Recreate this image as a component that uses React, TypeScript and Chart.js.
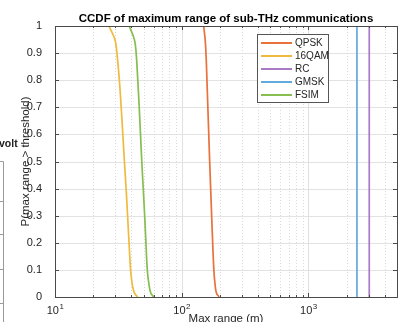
import { useEffect, useRef } from 'react';
import { Chart, registerables } from 'chart.js';

Chart.register(...registerables);

const seriesNames = ['QPSK', '16QAM', 'RC', 'GMSK', 'FSIM'];
const seriesColors = ['#E8713C', '#F0BA3E', '#A97BC6', '#62A9DE', '#86BE4F'];

const prob = [1, 0.95, 0.9, 0.8, 0.7, 0.6, 0.5, 0.4, 0.3, 0.2, 0.1, 0.05, 0.015, 0];
const qpskRange = [149.0, 153.1, 155.4, 158.2, 160.8, 163.5, 166.2, 169.2, 172.3, 175.5, 179.3, 182.9, 187.9, 197.4];
const qam16Range = [26.6, 29.7, 30.8, 32.2, 33.3, 34.3, 35.3, 36.4, 37.4, 38.4, 39.5, 40.6, 42.3, 45.0];
const fsimRange = [38.5, 42.3, 43.7, 45.0, 46.2, 47.3, 48.4, 49.7, 51.0, 52.2, 53.5, 55.0, 57.0, 60.2];
const stepProb = [0, 1];
const rcRange = [3020, 3020];
const gmskRange = [2415, 2415];

const xMin = 10;
const xMax = 5000;
const xTickValues = [10, 100, 1000];
const xTickExponents = ['1', '2', '3'];

const titleText = 'CCDF of maximum range of sub-THz communications';
const xLabelText = 'Max range (m)';
const yLabelText = 'P(max range > threshold)';
const remnantText = 'volt';

const FONT = '"Liberation Sans", Arial, Helvetica, sans-serif';

function pts(xs: number[], ys: number[]) {
  return xs.map((v, i) => ({ x: v, y: ys[i] }));
}

function minorValues(): number[] {
  const out: number[] = [];
  for (let d = xMin; d <= xMax; d *= 10) {
    for (let m = 1; m <= 9; m++) {
      const v = m * d;
      if (v <= xMax) out.push(v);
    }
  }
  return out;
}

function isPow10(v: number) {
  const l = Math.log10(v);
  return Math.abs(l - Math.round(l)) < 1e-9;
}

const framePlugin = {
  id: 'matlabFrame',
  beforeDatasetsDraw(chart: any) {
    const { ctx, chartArea: a, scales } = chart;
    const x = scales.x;
    const y = scales.y;
    ctx.save();
    ctx.lineWidth = 1;
    ctx.strokeStyle = '#E3E3E3';
    for (const t of y.ticks) {
      const py = Math.round(y.getPixelForValue(t.value)) + 0.5;
      ctx.beginPath();
      ctx.moveTo(a.left, py);
      ctx.lineTo(a.right, py);
      ctx.stroke();
    }
    for (const v of minorValues()) {
      const px = Math.round(x.getPixelForValue(v)) + 0.5;
      if (isPow10(v)) {
        ctx.setLineDash([]);
        ctx.strokeStyle = '#E0E0E0';
      } else {
        ctx.setLineDash([1, 2]);
        ctx.strokeStyle = '#DADADA';
      }
      ctx.beginPath();
      ctx.moveTo(px, a.top);
      ctx.lineTo(px, a.bottom);
      ctx.stroke();
    }
    ctx.restore();
  },
  afterDraw(chart: any) {
    const { ctx, chartArea: a, scales } = chart;
    const x = scales.x;
    const y = scales.y;
    ctx.save();
    ctx.lineWidth = 1;
    ctx.strokeStyle = '#4A4A4A';
    ctx.strokeRect(Math.round(a.left) + 0.5, Math.round(a.top) + 0.5, Math.round(a.right - a.left), Math.round(a.bottom - a.top));
    for (const t of y.ticks) {
      const py = Math.round(y.getPixelForValue(t.value)) + 0.5;
      ctx.beginPath();
      ctx.moveTo(a.left, py);
      ctx.lineTo(a.left + 4, py);
      ctx.moveTo(a.right, py);
      ctx.lineTo(a.right - 4, py);
      ctx.stroke();
    }
    for (const v of minorValues()) {
      const px = Math.round(x.getPixelForValue(v)) + 0.5;
      const len = isPow10(v) ? 4 : 2;
      ctx.beginPath();
      ctx.moveTo(px, a.bottom);
      ctx.lineTo(px, a.bottom - len);
      ctx.moveTo(px, a.top);
      ctx.lineTo(px, a.top + len);
      ctx.stroke();
    }
    ctx.fillStyle = '#262626';
    ctx.textBaseline = 'alphabetic';
    xTickValues.forEach((v, i) => {
      const px = x.getPixelForValue(v);
      ctx.font = `11px ${FONT}`;
      const w1 = ctx.measureText('10').width;
      ctx.font = `8px ${FONT}`;
      const w2 = ctx.measureText(xTickExponents[i]).width;
      const left = px - (w1 + w2) / 2;
      ctx.font = `11px ${FONT}`;
      ctx.textAlign = 'left';
      ctx.fillText('10', left, 314);
      ctx.font = `8px ${FONT}`;
      ctx.fillText(xTickExponents[i], left + w1 + 0.5, 309);
    });
    const cx = (a.left + a.right) / 2;
    ctx.fillStyle = '#000';
    ctx.font = `bold 11.5px ${FONT}`;
    ctx.textAlign = 'center';
    ctx.fillText(titleText, cx, 21.5);
    ctx.fillStyle = '#262626';
    ctx.font = `11.5px ${FONT}`;
    ctx.fillText(xLabelText, cx, 321.5);
    ctx.save();
    ctx.translate(29, (a.top + a.bottom) / 2);
    ctx.rotate(-Math.PI / 2);
    ctx.textAlign = 'center';
    ctx.fillText(yLabelText, 0, 0);
    ctx.restore();
    const lx = 257.5, ly = 34.5, lw = 71, lh = 68;
    ctx.fillStyle = '#fff';
    ctx.fillRect(lx, ly, lw, lh);
    ctx.strokeStyle = '#555';
    ctx.lineWidth = 1;
    ctx.strokeRect(lx, ly, lw, lh);
    ctx.font = `10px ${FONT}`;
    ctx.textAlign = 'left';
    ctx.textBaseline = 'middle';
    seriesNames.forEach((name, i) => {
      const ey = 43 + i * 13;
      ctx.strokeStyle = seriesColors[i];
      ctx.lineWidth = 2;
      ctx.beginPath();
      ctx.moveTo(261, ey);
      ctx.lineTo(292, ey);
      ctx.stroke();
      ctx.fillStyle = '#262626';
      ctx.fillText(name, 295, ey + 0.5);
    });
    ctx.fillStyle = '#222';
    ctx.font = `bold 10.5px ${FONT}`;
    ctx.textBaseline = 'alphabetic';
    ctx.fillText(remnantText, -1, 147);
    ctx.strokeStyle = '#9A9A9A';
    ctx.lineWidth = 1;
    ctx.beginPath();
    ctx.moveTo(0, 161.5);
    ctx.lineTo(3.5, 161.5);
    ctx.lineTo(3.5, 322);
    [201.5, 234.5, 269.5, 303.5].forEach((ty) => {
      ctx.moveTo(0, ty);
      ctx.lineTo(3.5, ty);
    });
    ctx.stroke();
    ctx.restore();
  },
};

export default function App() {
  const ref = useRef<HTMLCanvasElement | null>(null);
  useEffect(() => {
    if (!ref.current) return;
    const mk = (i: number, data: any[], curved: boolean) => ({
      label: seriesNames[i],
      data,
      borderColor: seriesColors[i],
      backgroundColor: seriesColors[i],
      borderWidth: 1.7,
      pointRadius: 0,
      fill: false,
      tension: curved ? 0.4 : 0,
    });
    const rev = (arr: number[]) => arr.slice().reverse();
    const chart = new Chart(ref.current, {
      type: 'line',
      data: {
        datasets: [
          mk(0, pts(rev(qpskRange), rev(prob)), true),
          mk(1, pts(rev(qam16Range), rev(prob)), true),
          mk(2, pts(rcRange, stepProb), false),
          mk(3, pts(gmskRange, stepProb), false),
          mk(4, pts(rev(fsimRange), rev(prob)), true),
        ] as any,
      },
      options: {
        animation: false,
        responsive: false,
        devicePixelRatio: 1,
        parsing: false as any,
        layout: { padding: { top: 26, right: 1, left: 0, bottom: 0 } },
        plugins: { legend: { display: false }, title: { display: false }, tooltip: { enabled: false } },
        scales: {
          x: {
            type: 'logarithmic',
            min: xMin,
            max: xMax,
            grid: { display: false },
            border: { display: false },
            ticks: { display: false },
            afterFit: (s: any) => { s.height = 25; },
          },
          y: {
            type: 'linear',
            min: 0,
            max: 1,
            grid: { display: false },
            border: { display: false },
            ticks: {
              stepSize: 0.1,
              padding: 5,
              color: '#262626',
              font: { family: FONT, size: 11 },
              callback: (v: any) => String(Math.round(Number(v) * 10) / 10),
            },
            afterFit: (s: any) => { s.width = 55; },
          },
        },
      },
      plugins: [framePlugin],
    });
    return () => chart.destroy();
  }, []);
  return (
    <div style={{ position: 'fixed', left: 0, top: 0, width: 398, height: 322, background: '#fff' }}>
      <canvas ref={ref} width={398} height={322} style={{ width: 398, height: 322 }} />
    </div>
  );
}
